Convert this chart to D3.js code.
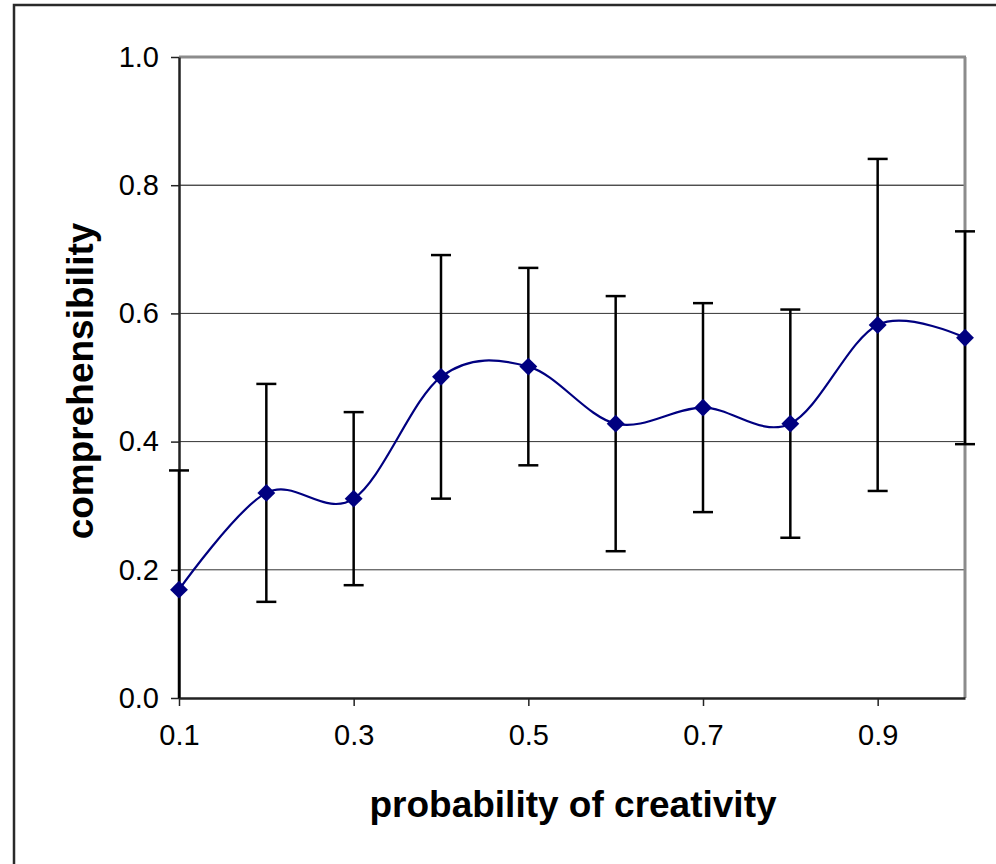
<!DOCTYPE html>
<html>
<head>
<meta charset="utf-8">
<script src="https://cdn.jsdelivr.net/npm/d3@7"></script>
<style>
  html, body { margin: 0; padding: 0; background: #fff; }
  svg { display: block; }
  text { font-family: Arial, "Liberation Sans", Helvetica, sans-serif; }
</style>
</head>
<body>
<svg id="chart" width="996" height="864"></svg>
<script>
const xValues = [0.1, 0.2, 0.3, 0.4, 0.5, 0.6, 0.7, 0.8, 0.9, 1.0];
const comprehensibility = [0.169, 0.320, 0.311, 0.501, 0.517, 0.428, 0.453, 0.428, 0.582, 0.562];
const errorAmount = [0.186, 0.170, 0.135, 0.190, 0.154, 0.199, 0.163, 0.178, 0.259, 0.166];
const xTickValues = [0.1, 0.3, 0.5, 0.7, 0.9];
const yTickValues = [0.0, 0.2, 0.4, 0.6, 0.8, 1.0];
const xTitle = "probability of creativity";
const yTitle = "comprehensibility";

const svg = d3.select("#chart");
const L = 179, R = 965, T = 57, B = 698;

const x = d3.scaleLinear().domain([0.1, 1.0]).range([L, R]);
const y = d3.scaleLinear().domain([0, 1]).range([B, T]);

// outer frame
svg.append("rect").attr("x", 14).attr("y", 5).attr("width", 1000).attr("height", 900)
  .attr("fill", "none").attr("stroke", "#2a2a2a").attr("stroke-width", 2.5);

// gridlines
svg.append("g").selectAll("line").data(yTickValues.filter(v => v > 0 && v < 1)).join("line")
  .attr("x1", L).attr("x2", R)
  .attr("y1", d => y(d)).attr("y2", d => y(d))
  .attr("stroke", d => d === 0.8 ? "#000" : "#333").attr("stroke-width", 1);

// plot border (top/right gray)
svg.append("line").attr("x1", L).attr("x2", R + 1).attr("y1", T).attr("y2", T)
  .attr("stroke", "#8c8c8c").attr("stroke-width", 3);
svg.append("line").attr("x1", R).attr("x2", R).attr("y1", T).attr("y2", B)
  .attr("stroke", "#8c8c8c").attr("stroke-width", 3);

// axes
const yAxis = d3.axisLeft(y).tickValues(yTickValues).tickFormat(d3.format(".1f"))
  .tickSize(8).tickSizeOuter(0).tickPadding(12);
const gy = svg.append("g").attr("transform", `translate(${L},0)`).call(yAxis);
gy.select(".domain").attr("stroke", "#222").attr("stroke-width", 2.5);
gy.selectAll(".tick line").attr("stroke", "#222").attr("stroke-width", 1.5);
gy.selectAll(".tick text").style("font-size", "29px").attr("fill", "#000");

const xAxis = d3.axisBottom(x).tickValues(xTickValues).tickFormat(d3.format(".1f"))
  .tickSize(8).tickSizeOuter(0).tickPadding(18);
const gx = svg.append("g").attr("transform", `translate(0,${B})`).call(xAxis);
gx.select(".domain").attr("stroke", "#222").attr("stroke-width", 2.5);
gx.selectAll(".tick line").attr("stroke", "#222").attr("stroke-width", 1.5);
gx.selectAll(".tick text").style("font-size", "29px").attr("fill", "#000");

// data
const data = xValues.map((v, i) => ({ x: v, y: comprehensibility[i], e: errorAmount[i] }));

// error bars
const eb = svg.append("g").attr("stroke", "#000").attr("stroke-width", 2.5).attr("fill", "none");
data.forEach(d => {
  const hi = d.y + d.e, lo = Math.max(0, d.y - d.e);
  eb.append("line").attr("x1", x(d.x)).attr("x2", x(d.x)).attr("y1", y(hi)).attr("y2", y(lo));
  eb.append("line").attr("x1", x(d.x) - 10).attr("x2", x(d.x) + 10).attr("y1", y(hi)).attr("y2", y(hi));
  if (d.y - d.e >= 0) {
    eb.append("line").attr("x1", x(d.x) - 10).attr("x2", x(d.x) + 10).attr("y1", y(lo)).attr("y2", y(lo));
  }
});

// smoothed line
const line = d3.line().x(d => x(d.x)).y(d => y(d.y)).curve(d3.curveCardinal.tension(0));
svg.append("path").datum(data).attr("d", line)
  .attr("fill", "none").attr("stroke", "#000080").attr("stroke-width", 2.2);

// diamond markers
svg.append("g").selectAll("path").data(data).join("path")
  .attr("d", d3.symbol().type(d3.symbolSquare).size(160))
  .attr("transform", d => `translate(${x(d.x)},${y(d.y)}) rotate(45)`)
  .attr("fill", "#000080");

// titles
svg.append("text").attr("x", 573).attr("y", 817).attr("text-anchor", "middle")
  .attr("font-size", 37).attr("font-weight", "bold").attr("fill", "#000").text(xTitle);
svg.append("text").attr("transform", "translate(93,381) rotate(-90)").attr("text-anchor", "middle")
  .attr("font-size", 37).attr("font-weight", "bold").attr("fill", "#000").text(yTitle);
</script>
</body>
</html>
